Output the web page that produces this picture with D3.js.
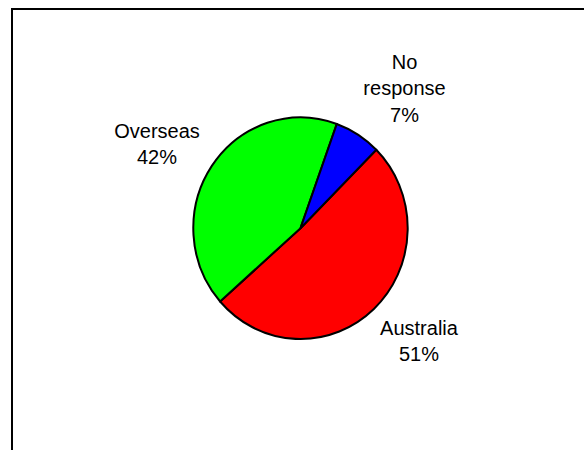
<!DOCTYPE html>
<html>
<head>
<meta charset="utf-8">
<script src="https://cdn.jsdelivr.net/npm/d3@7"></script>
<style>
  html, body { margin: 0; padding: 0; background: #ffffff; }
  svg { display: block; }
</style>
</head>
<body>
<script>
// ---- data ----
const categories = ["Australia", "Overseas", "No response"];
const values = [51, 42, 7];
const colors = ["#FF0000", "#00FF00", "#0000FF"];

// ---- layout ----
const W = 584, H = 450;
const cx = 300.5, cy = 228.2;
const rx = 107.2, ry = 110.8;
const startDeg = 45;
// label block centres (x) and first baseline (y)
const labelLayout = [
  { x: 419, y: 334.5 },
  { x: 157, y: 138 },
  { x: 404.5, y: 69 }
];
const lineH = 26.3;

const svg = d3.select("body").append("svg")
  .attr("width", W).attr("height", H);

svg.append("rect").attr("width", W).attr("height", H).attr("fill", "#fff");

// frame (extends past right/bottom edges)
svg.append("rect")
  .attr("x", 12).attr("y", 9)
  .attr("width", W + 20).attr("height", H + 20)
  .attr("fill", "none").attr("stroke", "#000").attr("stroke-width", 2);

const data = categories.map((c, i) => ({ name: c, value: values[i], color: colors[i] }));

const pie = d3.pie().sort(null).value(d => d.value)
  .startAngle(startDeg * Math.PI / 180)
  .endAngle(startDeg * Math.PI / 180 + 2 * Math.PI);

const arc = d3.arc().innerRadius(0).outerRadius(rx);

const g = svg.append("g")
  .attr("transform", `translate(${cx},${cy}) scale(1,${ry / rx})`);

g.selectAll("path").data(pie(data)).join("path")
  .attr("d", arc)
  .attr("fill", d => d.data.color)
  .attr("stroke", "#000")
  .attr("stroke-width", 2)
  .attr("stroke-linejoin", "round");

// labels
const fmt = d3.format("d");
data.forEach((d, i) => {
  const lines = d.name.split(" ").concat([fmt(d.value) + "%"]);
  const L = labelLayout[i];
  const t = svg.append("text")
    .attr("text-anchor", "middle")
    .attr("font-family", "'Liberation Sans', Arial, Helvetica, sans-serif")
    .attr("font-size", 20)
    .attr("fill", "#000");
  lines.forEach((ln, k) => {
    t.append("tspan").attr("x", L.x).attr("y", L.y + k * lineH).text(ln);
  });
});
</script>
</body>
</html>
